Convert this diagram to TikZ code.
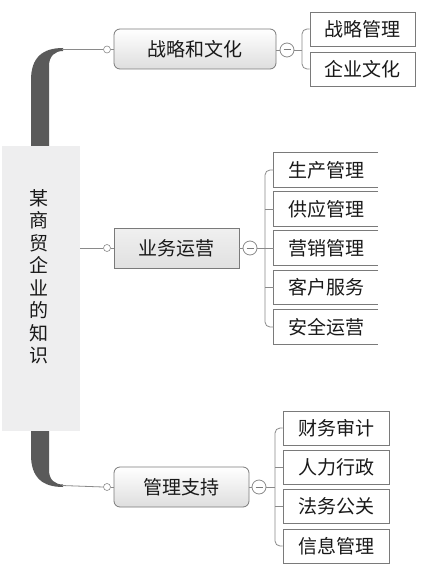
\documentclass[tikz,border=0pt]{standalone}
\usepackage{fontspec}
\newfontfamily\cjk{Noto Sans CJK SC}
\usetikzlibrary{calc}
\definecolor{rootfill}{HTML}{EEEEEF}
\definecolor{trunkgray}{HTML}{5A5A5A}
\definecolor{edge}{HTML}{8A8A8A}
\definecolor{boxline}{HTML}{7A7A7A}
\tikzset{
  every node/.style={font=\cjk, text=black!90},
  topic/.style={draw=boxline, line width=0.8pt, top color=white, bottom color=black!13,
    minimum height=40pt, inner sep=0pt, font=\cjk\fontsize{19}{19}\selectfont},
  leaf/.style={draw=boxline, line width=0.8pt, fill=white, minimum height=34pt,
    inner sep=0pt, font=\cjk\fontsize{19}{19}\selectfont},
  openleaf/.style={fill=white, minimum height=34pt, inner sep=0pt,
    font=\cjk\fontsize{19}{19}\selectfont},
  knob/.style={circle, draw=edge, fill=white, line width=0.6pt, minimum size=7pt, inner sep=0pt},
  toggle/.style={circle, draw=edge, fill=white, line width=0.8pt, minimum size=14pt, inner sep=0pt},
  link/.style={draw=edge, line width=0.8pt},
  trunk/.style={fill=trunkgray},
}
\begin{document}
\begin{tikzpicture}[x=1pt,y=-1pt]
\useasboundingbox (0,0) rectangle (421,577);
\fill[white] (0,0) rectangle (421,577);

% root
\node[fill=rootfill, minimum width=78pt, minimum height=285pt, inner sep=0pt] (root) at (41,288.5) {};
\node[font=\cjk\fontsize{19}{22.5}\selectfont, align=center] (roottext) at (38.5,277)
  {某\\商\\贸\\企\\业\\的\\知\\识};

% trunk branches
\path[trunk] (31,146) -- (31,80) .. controls (31,58) and (42,48) .. (63,48)
  -- (63,51) .. controls (55,51) and (49,56) .. (49,66) -- (49,146) -- cycle;
\path[trunk] (31,431) -- (31,455) .. controls (31,477) and (42,487) .. (63,487)
  -- (63,484.5) .. controls (55,484.5) and (49,480) .. (49,470) -- (49,431) -- cycle;
\coordinate (t1) at (62,49.5);
\coordinate (t3) at (62,485.5);

% topics
\node[topic, rounded corners=6pt, minimum width=162pt] (s1) at (195,49) {战略和文化};
\node[topic, minimum width=125pt, top color=black!6, bottom color=black!12] (s2) at (176.5,248) {业务运营};
\node[topic, rounded corners=6pt, minimum width=135pt] (s3) at (181.5,487) {管理支持};

\node[knob] (k1) at (107,49.5) {};
\node[knob] (k2) at (107,248) {};
\node[knob] (k3) at (107,487) {};
\draw[link] (t1) -- (k1.west);
\draw[link] (k1.east) -- (k1.east -| s1.west);
\draw[link] (root.east |- k2) -- (k2.west);
\draw[link] (k2.east) -- (k2.east -| s2.west);
\draw[link] (t3) -- (k3.west);
\draw[link] (k3.east) -- (k3.east -| s3.west);

% toggles
\node[toggle] (m1) at (287,50) {};
\node[toggle] (m2) at (250,248) {};
\node[toggle] (m3) at (259,487) {};
\foreach \m in {m1,m2,m3}{
  \draw[edge!90!black, line width=1pt] ($(\m.center)+(-3.5,0)$) -- ($(\m.center)+(3.5,0)$);
}
\draw[link] (s1.east |- m1) -- (m1.west);
\draw[link] (s2.east |- m2) -- (m2.west);
\draw[link] (s3.east |- m3) -- (m3.west);

% leaves group 1
\node[leaf, minimum width=105pt] (a1) at (362.5,29) {战略管理};
\node[leaf, minimum width=105pt] (a2) at (362.5,69) {企业文化};
\coordinate (j1) at (302,50);
\draw[link] (m1.east) -- (j1);
\draw[link, rounded corners=5pt] (a1.west) -| (j1) |- (a2.west);

% leaves group 2 (open on the right)
\foreach \n/\y/\t in {b1/170/生产管理, b2/209/供应管理, b3/248/营销管理, b4/287.5/客户服务, b5/327/安全运营}{
  \node[openleaf, minimum width=104pt] (\n) at (326,\y) {\t};
  \draw[boxline, line width=0.8pt] (\n.north east) -- (\n.north west) -- (\n.south west) -- (\n.south east);
}
\coordinate (j2) at (265,248);
\draw[link] (m2.east) -- (j2);
\draw[link, rounded corners=5pt] (b1.west) -| (j2) |- (b5.west);
\foreach \n in {b2,b3,b4}{ \draw[link] (j2 |- \n.west) -- (\n.west); }

% leaves group 3
\node[leaf, minimum width=106pt] (c1) at (336,428) {财务审计};
\node[leaf, minimum width=106pt] (c2) at (336,467) {人力行政};
\node[leaf, minimum width=106pt] (c3) at (336,506) {法务公关};
\node[leaf, minimum width=106pt] (c4) at (336,546) {信息管理};
\coordinate (j3) at (275,487);
\draw[link] (m3.east) -- (j3);
\draw[link, rounded corners=5pt] (c1.west) -| (j3) |- (c4.west);
\foreach \n in {c2,c3}{ \draw[link] (j3 |- \n.west) -- (\n.west); }
\end{tikzpicture}
\end{document}
